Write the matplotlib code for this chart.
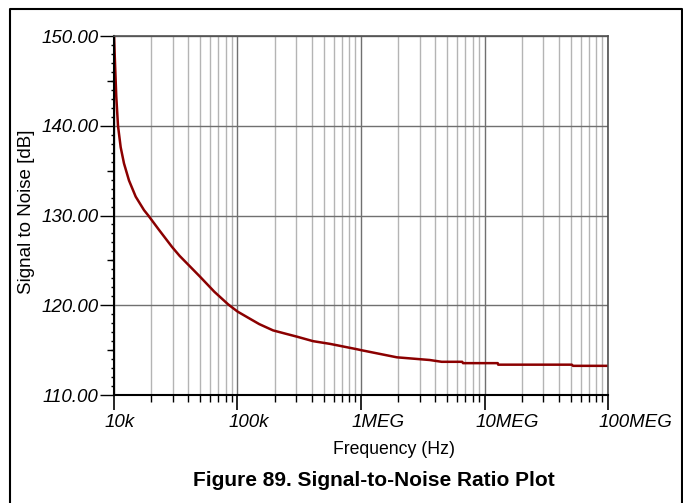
import numpy as np
import matplotlib
matplotlib.use('Agg')
import matplotlib.pyplot as plt
from matplotlib.ticker import FixedLocator, NullFormatter, LogLocator
from matplotlib.lines import Line2D
from matplotlib.transforms import ScaledTranslation, blended_transform_factory

# values
freq_hz = [10000, 10190, 10430, 10775, 11330, 12050, 13230, 14990, 17500, 18960,
           23140, 29500, 34000, 49600, 65000, 84000, 100000, 126000, 150000, 194000,
           250000, 303000, 409000, 560000, 927000, 1000000, 1950000, 3600000,
           4500000, 6600000, 6700000, 12800000, 12900000, 51000000, 52000000,
           100000000]
snr_db = [150.0, 147.0, 143.3, 140.0, 137.6, 135.8, 133.9, 132.1, 130.6, 130.0,
          128.4, 126.5, 125.5, 123.2, 121.5, 120.1, 119.3, 118.5, 117.9, 117.2,
          116.8, 116.5, 116.0, 115.7, 115.1, 115.0, 114.2, 113.9,
          113.7, 113.7, 113.55, 113.55, 113.38, 113.38, 113.25,
          113.25]

y_major = [110, 120, 130, 140, 150]
y_labels = ['110.00', '120.00', '130.00', '140.00', '150.00']
x_major = [1e4, 1e5, 1e6, 1e7, 1e8]
x_labels = ['10k', '100k', '1MEG', '10MEG', '100MEG']

plt.rcParams['font.family'] = ['Liberation Sans', 'DejaVu Sans']

fig = plt.figure(figsize=(6.83, 5.03), dpi=100)
ax = fig.add_axes([0.1669, 0.2147, 0.7233, 0.7137])

ax.set_xscale('log')
ax.set_xlim(1e4, 1e8)
ax.set_ylim(110, 150)

# ticks and grid
ax.xaxis.set_major_locator(FixedLocator(x_major))
ax.xaxis.set_major_formatter(NullFormatter())
ax.xaxis.set_minor_locator(LogLocator(base=10, subs=np.arange(2, 10)))
ax.xaxis.set_minor_formatter(NullFormatter())
ax.yaxis.set_major_locator(FixedLocator(y_major))
ax.yaxis.set_minor_locator(FixedLocator([v for v in range(110, 151) if v % 10 != 0]))
ax.set_yticklabels(y_labels, fontsize=13.5, style='italic')

# x labels start a little left of their tick
trans = blended_transform_factory(ax.transData, ax.transAxes) + \
    ScaledTranslation(-9 / 100, -27 / 100, fig.dpi_scale_trans)
for xv, lab in zip(x_major, x_labels):
    ax.text(xv, 0, lab, transform=trans, ha='left', va='center',
            fontsize=13.5, style='italic', clip_on=False)

ax.grid(True, which='major', axis='both', color='#707070', linewidth=1.0)
ax.grid(True, which='minor', axis='x', color='#b4b4b4', linewidth=1.0)
ax.set_axisbelow(True)

ax.tick_params(axis='x', which='major', direction='out', length=11, width=1.2)
ax.tick_params(axis='x', which='minor', direction='out', length=5, width=1.0)
ax.tick_params(axis='y', which='major', direction='out', length=10, width=1.0, pad=1)
ax.tick_params(axis='y', which='minor', direction='out', length=2.5, width=1.0)

# longer ticks at the 5 dB marks
sec = ax.secondary_yaxis('left')
sec.spines['left'].set_visible(False)
sec.yaxis.set_major_locator(FixedLocator([115, 125, 135, 145]))
sec.yaxis.set_major_formatter(NullFormatter())
sec.tick_params(axis='y', which='both', direction='out', length=5, width=1.0)
sec.yaxis.set_minor_locator(FixedLocator([]))

for s in ['left', 'bottom']:
    ax.spines[s].set_color('black')
    ax.spines[s].set_linewidth(1.5)
for s in ['top', 'right']:
    ax.spines[s].set_color('#505050')
    ax.spines[s].set_linewidth(1.2)

ax.plot(freq_hz, snr_db, color='#8b0000', linewidth=1.8, solid_joinstyle='round')

fig.text(27 / 683, 1 - 212 / 503, 'Signal to Noise [dB]', rotation=90,
         ha='center', va='center', fontsize=13.5)
fig.text(394 / 683, 1 - 450 / 503, 'Frequency (Hz)', ha='center', va='center', fontsize=12.7)
fig.text(374 / 683, 1 - 480 / 503, 'Figure 89. Signal-to-Noise Ratio Plot',
         ha='center', va='center', fontsize=15, fontweight='bold')

# outer frame (left, top, right)
frame = Line2D([9.5 / 683, 9.5 / 683, 681.5 / 683, 681.5 / 683],
               [0, 1 - 8.5 / 503, 1 - 8.5 / 503, 0],
               transform=fig.transFigure, color='black', linewidth=1.5)
fig.add_artist(frame)

fig.savefig('out.png', dpi=100)
